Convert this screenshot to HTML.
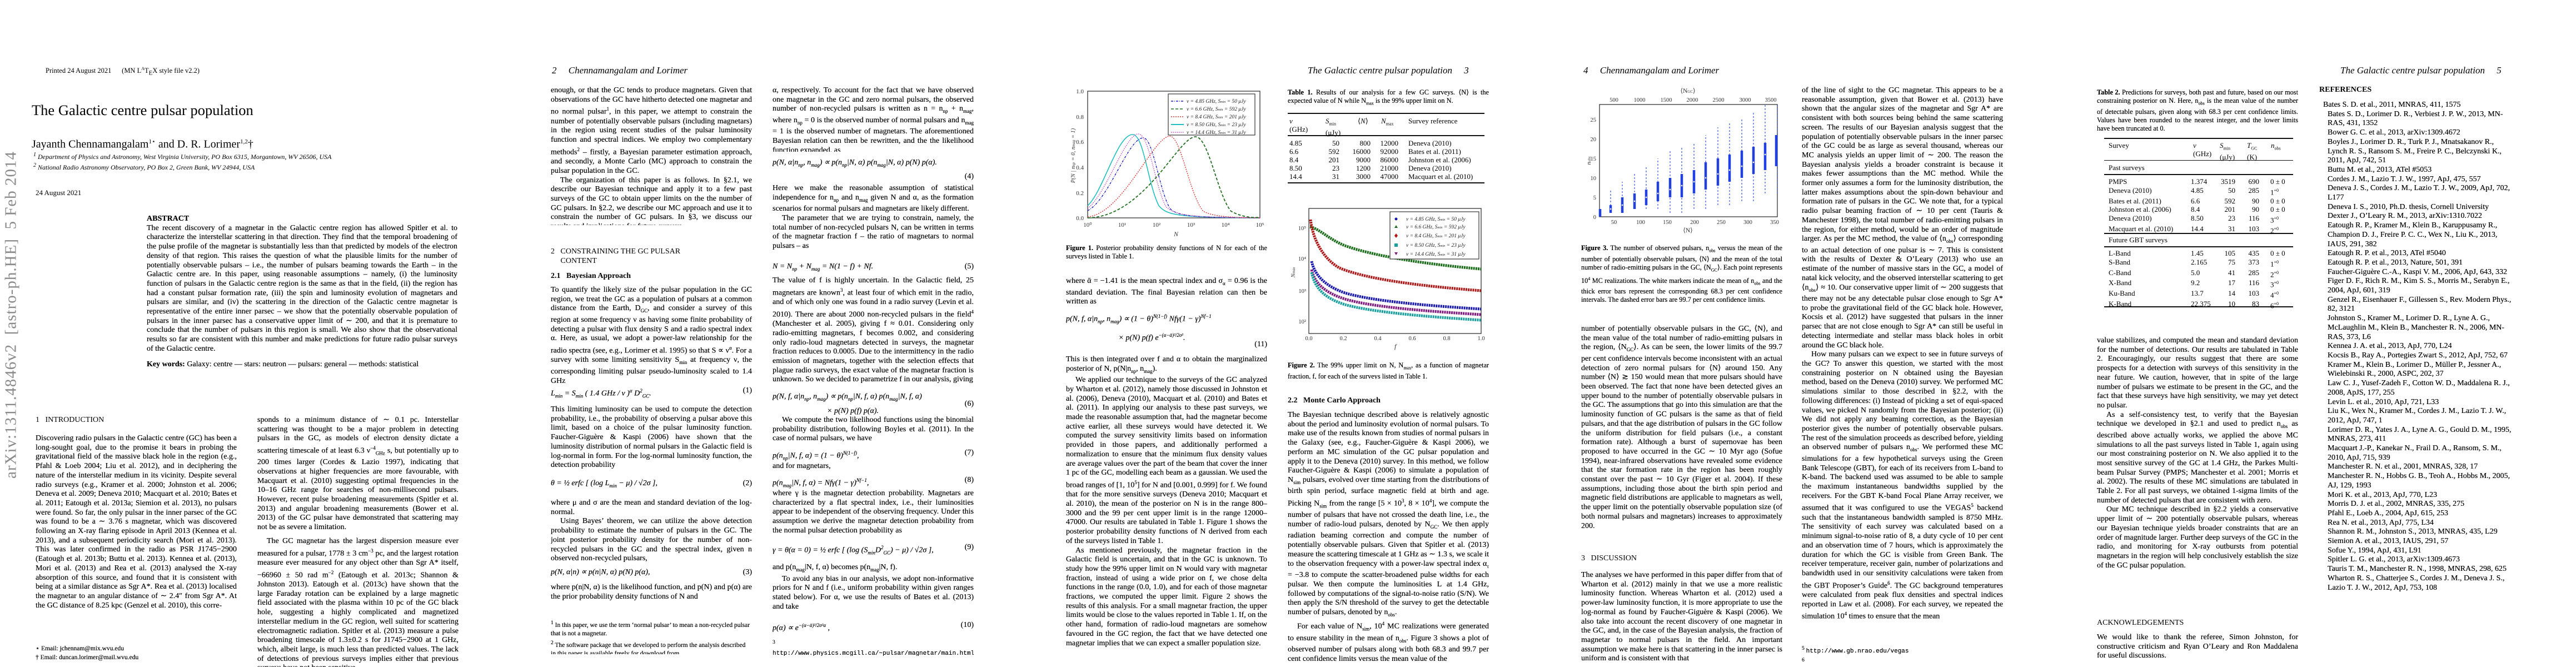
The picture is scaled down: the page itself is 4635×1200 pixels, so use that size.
<!DOCTYPE html>
<html><head><meta charset="utf-8">
<style>
*{margin:0;padding:0;box-sizing:border-box}
body{width:4635px;height:1200px;background:#fff;position:relative;overflow:hidden;font-family:"Liberation Serif",serif;color:#000}
.a{position:absolute}
.c{position:absolute;width:362px;font-size:14px;line-height:16.7px;text-align:justify;overflow:hidden;text-shadow:0 0 0.3px #000}
.c p{margin:0}
.i{text-indent:17px}
.s{font-size:12.3px;line-height:15.2px}
.fn{font-size:11.5px;line-height:15.5px;text-align:left}
.eq{display:flex;justify-content:space-between;font-size:14px;line-height:16.7px;font-style:italic}
.eq span:last-child{font-style:normal}
.hd{position:absolute;font-size:17px;font-style:italic;white-space:nowrap}
.mono{font-family:"Liberation Mono",monospace;font-size:11px}
b{font-weight:bold}
</style></head><body>

<!-- PAGE 1 -->
<div class="a" style="left:82px;top:119px;font-size:12.5px;white-space:nowrap">Printed 24 August 2021&nbsp;&nbsp;&nbsp;&nbsp;&nbsp;&nbsp;(MN L<sup style="font-size:8px">A</sup>T<sub style="font-size:11px">E</sub>X style file v2.2)</div>
<div class="a" style="left:57px;top:183px;font-size:26.5px;white-space:nowrap">The Galactic centre pulsar population</div>
<div class="a" style="left:57px;top:248px;font-size:20px;white-space:nowrap">Jayanth Chennamangalam<sup style="font-size:11px">1⋆</sup> and D. R. Lorimer<sup style="font-size:11px">1,2</sup>†</div>
<div class="a" style="left:60px;top:271px;font-size:12px;font-style:italic;white-space:nowrap;line-height:15px"><sup>1</sup> Department of Physics and Astronomy, West Virginia University, PO Box 6315, Morgantown, WV 26506, USA<br><sup>2</sup> National Radio Astronomy Observatory, PO Box 2, Green Bank, WV 24944, USA</div>
<div class="a" style="left:64px;top:339px;font-size:13px">24 August 2021</div>
<div class="a" style="left:5px;top:270px;width:32px;height:590px">
 <div style="position:absolute;left:-280px;top:280px;width:590px;transform:rotate(-90deg);font-size:29px;color:#8a8a8a;white-space:nowrap;text-align:center;letter-spacing:1px">arXiv:1311.4846v2&nbsp; [astro-ph.HE]&nbsp; 5 Feb 2014</div>
</div>
<div class="c" style="left:264px;top:386px;width:559px;height:312px">
<p style="font-weight:bold">ABSTRACT</p>
<p>The recent discovery of a magnetar in the Galactic centre region has allowed Spitler et al. to characterize the interstellar scattering in that direction. They find that the temporal broadening of the pulse profile of the magnetar is substantially less than that predicted by models of the electron density of that region. This raises the question of what the plausible limits for the number of potentially observable pulsars – i.e., the number of pulsars beaming towards the Earth – in the Galactic centre are. In this paper, using reasonable assumptions – namely, (i) the luminosity function of pulsars in the Galactic centre region is the same as that in the field, (ii) the region has had a constant pulsar formation rate, (iii) the spin and luminosity evolution of magnetars and pulsars are similar, and (iv) the scattering in the direction of the Galactic centre magnetar is representative of the entire inner parsec – we show that the potentially observable population of pulsars in the inner parsec has a conservative upper limit of ∼ 200, and that it is premature to conclude that the number of pulsars in this region is small. We also show that the observational results so far are consistent with this number and make predictions for future radio pulsar surveys of the Galactic centre.</p>
<p style="margin-top:11px"><b>Key words:</b> Galaxy: centre — stars: neutron — pulsars: general — methods: statistical</p>
</div>
<div class="a" style="left:64px;top:748px;font-size:14px">1&nbsp;&nbsp;&nbsp;INTRODUCTION</div>
<div class="c" style="left:64px;top:781px;height:342px"><p>Discovering radio pulsars in the Galactic centre (GC) has been a long-sought goal, due to the promise it bears in probing the gravitational field of the massive black hole in the region (e.g., Pfahl &amp; Loeb 2004; Liu et al. 2012), and in deciphering the nature of the interstellar medium in its vicinity. Despite several radio surveys (e.g., Kramer et al. 2000; Johnston et al. 2006; Deneva et al. 2009; Deneva 2010; Macquart et al. 2010; Bates et al. 2011; Eatough et al. 2013a; Siemion et al. 2013), no pulsars were found. So far, the only pulsar in the inner parsec of the GC was found to be a ∼ 3.76 s magnetar, which was discovered following an X-ray flaring episode in April 2013 (Kennea et al. 2013), and a subsequent periodicity search (Mori et al. 2013). This was later confirmed in the radio as PSR J1745−2900 (Eatough et al. 2013b; Buttu et al. 2013). Kennea et al. (2013), Mori et al. (2013) and Rea et al. (2013) analysed the X-ray absorption of this source, and found that it is consistent with being at a similar distance as Sgr A*. Rea et al. (2013) localised the magnetar to an angular distance of ∼ 2.4″ from Sgr A*. At the GC distance of 8.25 kpc (Genzel et al. 2010), this corre-</p></div>
<div class="c fn" style="left:64px;top:1160px;height:32px">⋆ Email: jchennam@mix.wvu.edu<br>† Email: duncan.lorimer@mail.wvu.edu</div>
<div class="c" style="left:463px;top:748px;height:452px"><p>sponds to a minimum distance of ∼ 0.1 pc. Interstellar scattering was thought to be a major problem in detecting pulsars in the GC, as models of electron density dictate a scattering timescale of at least 6.3 ν<sup style="font-size:9px">−4</sup><sub style="font-size:9px">GHz</sub> s, but potentially up to 200 times larger (Cordes &amp; Lazio 1997), indicating that observations at higher frequencies are more favourable, with Macquart et al. (2010) suggesting optimal frequencies in the 10–16 GHz range for searches of non-millisecond pulsars. However, recent pulse broadening measurements (Spitler et al. 2013) and angular broadening measurements (Bower et al. 2013) of the GC pulsar have demonstrated that scattering may not be as severe a limitation.</p>
<p class="i" style="margin-top:8px">The GC magnetar has the largest dispersion measure ever measured for a pulsar, 1778 ± 3 cm<sup style="font-size:9px">−3</sup> pc, and the largest rotation measure ever measured for any object other than Sgr A* itself, −66960 ± 50 rad m<sup style="font-size:9px">−2</sup> (Eatough et al. 2013c; Shannon &amp; Johnston 2013). Eatough et al. (2013c) have shown that the large Faraday rotation can be explained by a large magnetic field associated with the plasma within 10 pc of the GC black hole, suggesting a highly complicated and magnetized interstellar medium in the GC region, well suited for scattering electromagnetic radiation. Spitler et al. (2013) measure a pulse broadening timescale of 1.3±0.2 s for J1745−2900 at 1 GHz, which, albeit large, is much less than predicted values. The lack of detections of previous surveys implies either that previous surveys have not been sensitive</p></div>

<!-- PAGE 2 -->
<div class="hd" style="left:993px;top:117px">2&nbsp;&nbsp;&nbsp;&nbsp;&nbsp;Chennamangalam and Lorimer</div>
<div class="c" style="left:991px;top:155px;height:250px"><p>enough, or that the GC tends to produce magnetars. Given that observations of the GC have hitherto detected one magnetar and no normal pulsar<sup style="font-size:9px">1</sup>, in this paper, we attempt to constrain the number of potentially observable pulsars (including magnetars) in the region using recent studies of the pulsar luminosity function and spectral indices. We employ two complementary methods<sup style="font-size:9px">2</sup> – firstly, a Bayesian parameter estimation approach, and secondly, a Monte Carlo (MC) approach to constrain the pulsar population in the GC.</p>
<p class="i">The organization of this paper is as follows. In §2.1, we describe our Bayesian technique and apply it to a few past surveys of the GC to obtain upper limits on the the number of GC pulsars. In §2.2, we describe our MC approach and use it to constrain the number of GC pulsars. In §3, we discuss our results and implications for future surveys.</p></div>
<div class="a" style="left:991px;top:445px;font-size:14px;line-height:16.7px">2&nbsp;&nbsp;&nbsp;CONSTRAINING THE GC PULSAR<br>&nbsp;&nbsp;&nbsp;&nbsp;&nbsp;CONTENT</div>
<div class="a" style="left:991px;top:489px;font-size:14px;font-weight:bold">2.1&nbsp;&nbsp;&nbsp;Bayesian Approach</div>
<div class="c" style="left:991px;top:514px;height:182px"><p>To quantify the likely size of the pulsar population in the GC region, we treat the GC as a population of pulsars at a common distance from the Earth, D<sub style="font-size:9px">GC</sub>, and consider a survey of this region at some frequency ν as having some finite probability of detecting a pulsar with flux density S and a radio spectral index α. Here, as usual, we adopt a power-law relationship for the radio spectra (see, e.g., Lorimer et al. 1995) so that S ∝ ν<sup style="font-size:9px">α</sup>. For a survey with some limiting sensitivity S<sub style="font-size:9px">min</sub> at frequency ν, the corresponding limiting pulsar pseudo-luminosity scaled to 1.4 GHz</p></div>
<div class="c eq" style="left:991px;top:695px"><span>L<sub style="font-size:9px">min</sub> = S<sub style="font-size:9px">min</sub> ( 1.4 GHz / ν )<sup style="font-size:9px">α</sup> D<sup style="font-size:9px">2</sup><sub style="font-size:9px">GC</sub>.</span><span>(1)</span></div>
<div class="c" style="left:991px;top:729px;height:118px"><p>This limiting luminosity can be used to compute the detection probability, i.e., the probability of observing a pulsar above this limit, based on a choice of the pulsar luminosity function. Faucher-Giguère &amp; Kaspi (2006) have shown that the luminosity distribution of normal pulsars in the Galactic field is log-normal in form. For the log-normal luminosity function, the detection probability</p></div>
<div class="c eq" style="left:991px;top:862px"><span>θ = ½ erfc [ (log L<sub style="font-size:9px">min</sub> − μ) / √2σ ],</span><span>(2)</span></div>
<div class="c" style="left:991px;top:897px;height:118px"><p>where μ and σ are the mean and standard deviation of the log-normal.</p><p class="i">Using Bayes’ theorem, we can utilize the above detection probability to estimate the number of pulsars in the GC. The joint posterior probability density for the number of non-recycled pulsars in the GC and the spectral index, given n observed non-recycled pulsars,</p></div>
<div class="c eq" style="left:991px;top:1022px"><span>p(N, α|n) ∝ p(n|N, α) p(N) p(α),</span><span>(3)</span></div>
<div class="c" style="left:991px;top:1049px;height:34px"><p>where p(n|N, α) is the likelihood function, and p(N) and p(α) are the prior probability density functions of N and</p></div>
<div class="c fn" style="left:991px;top:1113px;height:64px"><sup>1</sup> In this paper, we use the term ‘normal pulsar’ to mean a non-recycled pulsar that is not a magnetar.<br><sup>2</sup> The software package that we developed to perform the analysis described in this paper is available freely for download from <span class="mono">http://psrpop.phys.wvu.edu/gcpulsars</span>.</div>

<div class="c" style="left:1390px;top:155px;height:118px"><p>α, respectively. To account for the fact that we have observed one magnetar in the GC and zero normal pulsars, the observed number of non-recycled pulsars is written as n = n<sub style="font-size:9px">np</sub> + n<sub style="font-size:9px">mag</sub>, where n<sub style="font-size:9px">np</sub> = 0 is the observed number of normal pulsars and n<sub style="font-size:9px">mag</sub> = 1 is the observed number of magnetars. The aforementioned Bayesian relation can then be rewritten, and the the likelihood function expanded, as</p></div>
<div class="c eq" style="left:1390px;top:285px"><span>p(N, α|n<sub style="font-size:9px">np</sub>, n<sub style="font-size:9px">mag</sub>) ∝ p(n<sub style="font-size:9px">np</sub>|N, α) p(n<sub style="font-size:9px">mag</sub>|N, α) p(N) p(α).</span><span></span></div>
<div class="c" style="left:1390px;top:310px;text-align:right">(4)</div>
<div class="c" style="left:1390px;top:331px;height:134px"><p>Here we make the reasonable assumption of statistical independence for n<sub style="font-size:9px">np</sub> and n<sub style="font-size:9px">mag</sub> given N and α, as the formation scenarios for normal pulsars and magnetars are likely different.</p><p class="i">The parameter that we are trying to constrain, namely, the total number of non-recycled pulsars N, can be written in terms of the magnetar fraction f – the ratio of magnetars to normal pulsars – as</p></div>
<div class="c eq" style="left:1390px;top:472px"><span>N = N<sub style="font-size:9px">np</sub> + N<sub style="font-size:9px">mag</sub> = N(1 − f) + Nf.</span><span>(5)</span></div>
<div class="c" style="left:1390px;top:497px;height:200px"><p>The value of f is highly uncertain. In the Galactic field, 25 magnetars are known<sup style="font-size:9px">3</sup>, at least four of which emit in the radio, and of which only one was found in a radio survey (Levin et al. 2010). There are about 2000 non-recycled pulsars in the field<sup style="font-size:9px">4</sup> (Manchester et al. 2005), giving f ≈ 0.01. Considering only radio-emitting magnetars, f becomes 0.002, and considering only radio-loud magnetars detected in surveys, the magnetar fraction reduces to 0.0005. Due to the intermittency in the radio emission of magnetars, together with the selection effects that plague radio surveys, the exact value of the magnetar fraction is unknown. So we decided to parametrize f in our analysis, giving</p></div>
<div class="c eq" style="left:1390px;top:703px;line-height:22px"><span>p(N, f, α|n<sub style="font-size:9px">np</sub>, n<sub style="font-size:9px">mag</sub>) ∝ p(n<sub style="font-size:9px">np</sub>|N, f, α) p(n<sub style="font-size:9px">mag</sub>|N, f, α)<br>&nbsp;&nbsp;&nbsp;&nbsp;&nbsp;&nbsp;&nbsp;&nbsp;&nbsp;&nbsp;&nbsp;&nbsp;&nbsp;&nbsp;&nbsp;&nbsp;&nbsp;&nbsp;&nbsp;&nbsp;&nbsp;&nbsp;&nbsp;&nbsp;&nbsp;&nbsp;&nbsp;&nbsp;× p(N) p(f) p(α).</span><span style="align-self:center">(6)</span></div>
<div class="c" style="left:1390px;top:748px;height:52px"><p class="i">We compute the two likelihood functions using the binomial probability distribution, following Boyles et al. (2011). In the case of normal pulsars, we have</p></div>
<div class="c eq" style="left:1390px;top:807px"><span>p(n<sub style="font-size:9px">np</sub>|N, f, α) = (1 − θ)<sup style="font-size:9px">N(1−f)</sup>,</span><span>(7)</span></div>
<div class="c" style="left:1390px;top:831px">and for magnetars,</div>
<div class="c eq" style="left:1390px;top:856px"><span>p(n<sub style="font-size:9px">mag</sub>|N, f, α) = Nfγ(1 − γ)<sup style="font-size:9px">Nf−1</sup>,</span><span>(8)</span></div>
<div class="c" style="left:1390px;top:880px;height:84px"><p>where γ is the magnetar detection probability. Magnetars are characterized by a flat spectral index, i.e., their luminosities appear to be independent of the observing frequency. Under this assumption we derive the magnetar detection probability from the normal pulsar detection probability as</p></div>
<div class="c eq" style="left:1390px;top:977px"><span>γ = θ(α = 0) = ½ erfc [ (log (S<sub style="font-size:9px">min</sub>D<sup style="font-size:9px">2</sup><sub style="font-size:9px">GC</sub>) − μ) / √2σ ],</span><span>(9)</span></div>
<div class="c" style="left:1390px;top:1013px;height:84px"><p>and p(n<sub style="font-size:9px">mag</sub>|N, f, α) becomes p(n<sub style="font-size:9px">mag</sub>|N, f).</p><p class="i">To avoid any bias in our analysis, we adopt non-informative priors for N and f (i.e., uniform probability within given ranges stated below). For α, we use the results of Bates et al. (2013) and take</p></div>
<div class="c eq" style="left:1390px;top:1117px"><span>p(α) ∝ e<sup style="font-size:9px">−(α−ᾱ)²/2σ²α</sup> ,</span><span>(10)</span></div>
<div class="c fn" style="left:1390px;top:1148px;height:32px"><sup>3</sup> <span class="mono">http://www.physics.mcgill.ca/~pulsar/magnetar/main.html</span><br><sup>4</sup> <span class="mono">http://www.atnf.csiro.au/people/pulsar/psrcat/</span></div>

<!-- PAGE 3 -->
<div class="hd" style="left:2353px;top:117px">The Galactic centre pulsar population&nbsp;&nbsp;&nbsp;&nbsp;&nbsp;3</div>
<div class="c s" style="left:1918px;top:439px;height:32px"><b>Figure 1.</b> Posterior probability density functions of N for each of the surveys listed in Table 1.</div>
<div class="c" style="left:1918px;top:498px;height:52px"><p>where ᾱ = −1.41 is the mean spectral index and σ<sub style="font-size:9px">α</sub> = 0.96 is the standard deviation. The final Bayesian relation can then be written as</p></div>
<div class="c eq" style="left:1918px;top:557px;line-height:25px"><span>p(N, f, α|n<sub style="font-size:9px">np</sub>, n<sub style="font-size:9px">mag</sub>) ∝ (1 − θ)<sup style="font-size:9px">N(1−f)</sup> Nfγ(1 − γ)<sup style="font-size:9px">Nf−1</sup><br>&nbsp;&nbsp;&nbsp;&nbsp;&nbsp;&nbsp;&nbsp;&nbsp;&nbsp;&nbsp;&nbsp;&nbsp;&nbsp;&nbsp;&nbsp;&nbsp;&nbsp;&nbsp;&nbsp;&nbsp;&nbsp;&nbsp;&nbsp;&nbsp;&nbsp;&nbsp;&nbsp;× p(N) p(f) e<sup style="font-size:9px">−(α−ᾱ)²/2σ²</sup>.</span><span></span></div>
<div class="c" style="left:1918px;top:612px;text-align:right">(11)</div>
<div class="c" style="left:1918px;top:639px;height:555px"><p>This is then integrated over f and α to obtain the marginalized posterior of N, p(N|n<sub style="font-size:9px">np</sub>, n<sub style="font-size:9px">mag</sub>).</p>
<p class="i">We applied our technique to the surveys of the GC analyzed by Wharton et al. (2012), namely those discussed in Johnston et al. (2006), Deneva (2010), Macquart et al. (2010) and Bates et al. (2011). In applying our analysis to these past surveys, we made the reasonable assumption that, had the magnetar become active earlier, all these surveys would have detected it. We computed the survey sensitivity limits based on information provided in those papers, and additionally performed a normalization to ensure that the minimum flux density values are average values over the part of the beam that cover the inner 1 pc of the GC, modelling each beam as a gaussian. We used the broad ranges of [1, 10<sup style="font-size:9px">5</sup>] for N and [0.001, 0.999] for f. We found that for the more sensitive surveys (Deneva 2010; Macquart et al. 2010), the mean of the posterior on N is in the range 800–3000 and the 99 per cent upper limit is in the range 12000–47000. Our results are tabulated in Table 1. Figure 1 shows the posterior probability density functions of N derived from each of the surveys listed in Table 1.</p>
<p class="i">As mentioned previously, the magnetar fraction in the Galactic field is uncertain, and that in the GC is unknown. To study how the 99% upper limit on N would vary with magnetar fraction, instead of using a wide prior on f, we chose delta functions in the range (0.0, 1.0), and for each of those magnetar fractions, we computed the upper limit. Figure 2 shows the results of this analysis. For a small magnetar fraction, the upper limits would be close to the values reported in Table 1. If, on the other hand, formation of radio-loud magnetars are somehow favoured in the GC region, the fact that we have detected one magnetar implies that we can expect a smaller population size.</p></div>

<div class="c s" style="left:2317px;top:159px;height:32px"><b>Table 1.</b> Results of our analysis for a few GC surveys. ⟨N⟩ is the expected value of N while N<sub style="font-size:8px">max</sub> is the 99% upper limit on N.</div>
<div class="a" style="left:2317px;top:203px;width:354px;border-top:2.5px solid #111"></div>
<div class="a" style="left:2317px;top:243px;width:354px;border-top:2.5px solid #111"></div>
<div class="a" style="left:2317px;top:328px;width:354px;border-top:2.5px solid #111"></div>
<div class="a" style="left:2320px;top:210px;font-size:13px;line-height:15px;font-style:italic">ν<br><span style="font-style:normal">(GHz)</span></div>
<div class="a" style="left:2385px;top:210px;font-size:13px;line-height:15px"><i>S</i><sub style="font-size:8px">min</sub><br>(μJy)</div>
<div class="a" style="left:2443px;top:210px;font-size:13px">⟨<i>N</i>⟩</div>
<div class="a" style="left:2485px;top:210px;font-size:13px"><i>N</i><sub style="font-size:8px">max</sub></div>
<div class="a" style="left:2534px;top:210px;font-size:13px">Survey reference</div>
<div class="a" style="left:2320px;top:250px;font-size:13px;line-height:15px;width:350px">
<div style="display:grid;grid-template-columns:38px 52px 56px 50px 150px;column-gap:0">
<span>4.85</span><span style="text-align:right">50</span><span style="text-align:right">800</span><span style="text-align:right">12000</span><span style="padding-left:18px">Deneva (2010)</span>
<span>6.6</span><span style="text-align:right">592</span><span style="text-align:right">16000</span><span style="text-align:right">92000</span><span style="padding-left:18px">Bates et al. (2011)</span>
<span>8.4</span><span style="text-align:right">201</span><span style="text-align:right">9000</span><span style="text-align:right">86000</span><span style="padding-left:18px">Johnston et al. (2006)</span>
<span>8.50</span><span style="text-align:right">23</span><span style="text-align:right">1200</span><span style="text-align:right">21000</span><span style="padding-left:18px">Deneva (2010)</span>
<span>14.4</span><span style="text-align:right">31</span><span style="text-align:right">3000</span><span style="text-align:right">47000</span><span style="padding-left:18px">Macquart et al. (2010)</span>
</div></div>
<div class="c s" style="left:2317px;top:650px;height:32px"><b>Figure 2.</b> The 99% upper limit on N, N<sub style="font-size:8px">max</sub>, as a function of magnetar fraction, f, for each of the surveys listed in Table 1.</div>
<div class="a" style="left:2317px;top:713px;font-size:14px;font-weight:bold">2.2&nbsp;&nbsp;&nbsp;Monte Carlo Approach</div>
<div class="c" style="left:2317px;top:739px;height:455px"><p>The Bayesian technique described above is relatively agnostic about the period and luminosity evolution of normal pulsars. To make use of the results known from studies of normal pulsars in the Galaxy (see, e.g., Faucher-Giguère &amp; Kaspi 2006), we perform an MC simulation of the GC pulsar population and apply it to the Deneva (2010) survey. In this method, we follow Faucher-Giguère &amp; Kaspi (2006) to simulate a population of N<sub style="font-size:9px">sim</sub> pulsars, evolved over time starting from the distributions of birth spin period, surface magnetic field at birth and age. Picking N<sub style="font-size:9px">sim</sub> from the range [5 × 10<sup style="font-size:9px">3</sup>, 8 × 10<sup style="font-size:9px">4</sup>], we compute the number of pulsars that have not crossed the death line, i.e., the number of radio-loud pulsars, denoted by N<sub style="font-size:9px">GC</sub>. We then apply radiation beaming correction and compute the number of potentially observable pulsars. Given that Spitler et al. (2013) measure the scattering timescale at 1 GHz as ∼ 1.3 s, we scale it to the observation frequency with a power-law spectral index α<sub style="font-size:9px">τ</sub> = −3.8 to compute the scatter-broadened pulse widths for each pulsar. We then compute the luminosities L at 1.4 GHz, followed by computations of the signal-to-noise ratio (S/N). We then apply the S/N threshold of the survey to get the detectable number of pulsars, denoted by n<sub style="font-size:9px">obs</sub>.</p>
<p class="i">For each value of N<sub style="font-size:9px">sim</sub>, 10<sup style="font-size:9px">4</sup> MC realizations were generated to ensure stability in the mean of n<sub style="font-size:9px">obs</sub>. Figure 3 shows a plot of observed number of pulsars along with both 68.3 and 99.7 per cent confidence limits versus the mean value of the</p></div>

<!-- PAGE 4 -->
<div class="hd" style="left:2849px;top:117px">4&nbsp;&nbsp;&nbsp;&nbsp;&nbsp;Chennamangalam and Lorimer</div>
<div class="c s" style="left:2845px;top:439px;height:108px"><b>Figure 3.</b> The number of observed pulsars, n<sub style="font-size:8px">obs</sub> versus the mean of the number of potentially observable pulsars, ⟨N⟩ and the mean of the total number of radio-emitting pulsars in the GC, ⟨N<sub style="font-size:8px">GC</sub>⟩. Each point represents 10<sup style="font-size:8px">4</sup> MC realizations. The white markers indicate the mean of n<sub style="font-size:8px">obs</sub> and the thick error bars represent the corresponding 68.3 per cent confidence intervals. The dashed error bars are 99.7 per cent confidence limits.</div>
<div class="c" style="left:2845px;top:584px;height:368px"><p>number of potentially observable pulsars in the GC, ⟨N⟩, and the mean value of the total number of radio-emitting pulsars in the region, ⟨N<sub style="font-size:9px">GC</sub>⟩. As can be seen, the lower limits of the 99.7 per cent confidence intervals become inconsistent with an actual detection of zero normal pulsars for ⟨N⟩ around 150. Any number ⟨N⟩ ≳ 150 would mean that more pulsars should have been observed. The fact that none have been detected gives an upper bound to the number of potentially observable pulsars in the GC. The assumptions that go into this simulation are that the luminosity function of GC pulsars is the same as that of field pulsars, and that the age distribution of pulsars in the GC follow the uniform distribution for field pulsars (i.e., a constant formation rate). Although a burst of supernovae has been proposed to have occurred in the GC ∼ 10 Myr ago (Sofue 1994), near-infrared observations have revealed some evidence that the star formation rate in the region has been roughly constant over the past ∼ 10 Gyr (Figer et al. 2004). If these assumptions, including those about the birth spin period and magnetic field distributions are applicable to magnetars as well, the upper limit on the potentially observable population size (of both normal pulsars and magnetars) increases to approximately 200.</p></div>
<div class="a" style="left:2845px;top:997px;font-size:14px">3&nbsp;&nbsp;&nbsp;DISCUSSION</div>
<div class="c" style="left:2845px;top:1027px;height:168px"><p>The analyses we have performed in this paper differ from that of Wharton et al. (2012) mainly in that we use a more realistic luminosity function. Whereas Wharton et al. (2012) used a power-law luminosity function, it is more appropriate to use the log-normal as found by Faucher-Giguère &amp; Kaspi (2006). We also take into account the recent discovery of one magnetar in the GC, and, in the case of the Bayesian analysis, the fraction of magnetar to normal pulsars in the field. An important assumption we make here is that scattering in the inner parsec is uniform and is consistent with that</p></div>
<div class="c" style="left:3242px;top:155px;height:960px"><p>of the line of sight to the GC magnetar. This appears to be a reasonable assumption, given that Bower et al. (2013) have shown that the angular sizes of the magnetar and Sgr A* are consistent with both sources being behind the same scattering screen. The results of our Bayesian analysis suggest that the population of potentially observable pulsars in the inner parsec of the GC could be as large as several thousand, whereas our MC analysis yields an upper limit of ∼ 200. The reason the Bayesian analysis yields a broader constraint is because it makes fewer assumptions than the MC method. While the former only assumes a form for the luminosity distribution, the latter makes assumptions about the spin-down behaviour and formation rate of pulsars in the GC. We note that, for a typical radio pulsar beaming fraction of ∼ 10 per cent (Tauris &amp; Manchester 1998), the total number of radio-emitting pulsars in the region, for either method, would be an order of magnitude larger. As per the MC method, the value of ⟨n<sub style="font-size:9px">obs</sub>⟩ corresponding to an actual detection of one pulsar is ∼ 7. This is consistent with the results of Dexter &amp; O’Leary (2013) who use an estimate of the number of massive stars in the GC, a model of natal kick velocity, and the observed interstellar scattering to get ⟨n<sub style="font-size:9px">obs</sub>⟩ ≈ 10. Our conservative upper limit of ∼ 200 suggests that there may not be any detectable pulsar close enough to Sgr A* to probe the gravitational field of the GC black hole. However, Kocsis et al. (2012) have suggested that pulsars in the inner parsec that are not close enough to Sgr A* can still be useful in detecting intermediate and stellar mass black holes in orbit around the GC black hole.</p>
<p class="i">How many pulsars can we expect to see in future surveys of the GC? To answer this question, we started with the most constraining posterior on N obtained using the Bayesian method, based on the Deneva (2010) survey. We performed MC simulations similar to those described in §2.2, with the following differences: (i) Instead of picking a set of equi-spaced values, we picked N randomly from the Bayesian posterior; (ii) We did not apply any beaming correction, as the Bayesian posterior gives the number of potentially observable pulsars. The rest of the simulation proceeds as described before, yielding an observed number of pulsars n<sub style="font-size:9px">obs</sub>. We performed these MC simulations for a few hypothetical surveys using the Green Bank Telescope (GBT), for each of its receivers from L-band to K-band. The backend used was assumed to be able to sample the maximum instantaneous bandwidths supplied by the receivers. For the GBT K-band Focal Plane Array receiver, we assumed that it was configured to use the VEGAS<sup style="font-size:9px">5</sup> backend such that the instantaneous bandwidth sampled is 8750 MHz. The sensitivity of each survey was calculated based on a minimum signal-to-noise ratio of 8, a duty cycle of 10 per cent and an observation time of 7 hours, which is approximately the duration for which the GC is visible from Green Bank. The receiver temperature, receiver gain, number of polarizations and bandwidth used in our sensitivity calculations were taken from the GBT Proposer’s Guide<sup style="font-size:9px">6</sup>. The GC background temperatures were calculated from peak flux densities and spectral indices reported in Law et al. (2008). For each survey, we repeated the simulation 10<sup style="font-size:9px">4</sup> times to ensure that the mean</p></div>
<div class="c fn" style="left:3242px;top:1159px;height:32px"><sup>5</sup> <span class="mono">http://www.gb.nrao.edu/vegas</span><br><sup>6</sup> <span class="mono">https://science.nrao.edu/facilities/gbt/proposing/GBTpg.pdf</span></div>

<!-- PAGE 5 -->
<div class="hd" style="left:4211px;top:117px">The Galactic centre pulsar population&nbsp;&nbsp;&nbsp;&nbsp;&nbsp;5</div>
<div class="c s" style="left:3773px;top:159px;height:78px"><b>Table 2.</b> Predictions for surveys, both past and future, based on our most constraining posterior on N. Here, n<sub style="font-size:8px">obs</sub> is the mean value of the number of detectable pulsars, given along with 68.3 per cent confidence limits. Values have been rounded to the nearest integer, and the lower limits have been truncated at 0.</div>
<div class="a" style="left:3786px;top:248px;width:340px;border-top:2.5px solid #111"></div>
<div class="a" style="left:3786px;top:288px;width:340px;border-top:1.5px solid #111"></div>
<div class="a" style="left:3786px;top:313px;width:340px;border-top:2.5px solid #111"></div>
<div class="a" style="left:3786px;top:419px;width:340px;border-top:2.5px solid #111"></div>
<div class="a" style="left:3786px;top:443px;width:340px;border-top:2.5px solid #111"></div>
<div class="a" style="left:3786px;top:551px;width:340px;border-top:2.5px solid #111"></div>
<div class="a" style="left:3794px;top:254px;font-size:13px">Survey</div>
<div class="a" style="left:3946px;top:254px;font-size:13px;line-height:15px"><i>ν</i><br>(GHz)</div>
<div class="a" style="left:3994px;top:254px;font-size:13px;line-height:15px"><i>S</i><sub style="font-size:8px">min</sub><br>(μJy)</div>
<div class="a" style="left:4043px;top:254px;font-size:13px;line-height:15px"><i>T</i><sub style="font-size:8px">GC</sub><br>(K)</div>
<div class="a" style="left:4086px;top:254px;font-size:13px"><i>n</i><sub style="font-size:8px">obs</sub></div>
<div class="a" style="left:3794px;top:294px;font-size:13px">Past surveys</div>
<div class="a" style="left:3794px;top:424px;font-size:13px">Future GBT surveys</div>
<div class="a" style="left:3794px;top:319px;font-size:13px;line-height:15.7px;width:330px">
<div style="display:grid;grid-template-columns:148px 50px 30px 43px 50px">
<span>PMPS</span><span>1.374</span><span style="text-align:right">3519</span><span style="text-align:right">690</span><span style="padding-left:20px">0 ± 0</span>
<span>Deneva (2010)</span><span>4.85</span><span style="text-align:right">50</span><span style="text-align:right">285</span><span style="padding-left:20px">1<sup style="font-size:8px">+0</sup></span>
<span>Bates et al. (2011)</span><span>6.6</span><span style="text-align:right">592</span><span style="text-align:right">90</span><span style="padding-left:20px">0 ± 0</span>
<span>Johnston et al. (2006)</span><span>8.4</span><span style="text-align:right">201</span><span style="text-align:right">90</span><span style="padding-left:20px">0 ± 0</span>
<span>Deneva (2010)</span><span>8.50</span><span style="text-align:right">23</span><span style="text-align:right">116</span><span style="padding-left:20px">3<sup style="font-size:8px">+0</sup></span>
<span>Macquart et al. (2010)</span><span>14.4</span><span style="text-align:right">31</span><span style="text-align:right">103</span><span style="padding-left:20px">2<sup style="font-size:8px">+0</sup></span>
</div></div>
<div class="a" style="left:3794px;top:448px;font-size:13px;line-height:15.6px;width:330px">
<div style="display:grid;grid-template-columns:148px 50px 30px 43px 50px">
<span>L-Band</span><span>1.45</span><span style="text-align:right">105</span><span style="text-align:right">435</span><span style="padding-left:20px">0 ± 0</span>
<span>S-Band</span><span>2.165</span><span style="text-align:right">75</span><span style="text-align:right">373</span><span style="padding-left:20px">1<sup style="font-size:8px">+0</sup></span>
<span>C-Band</span><span>5.0</span><span style="text-align:right">41</span><span style="text-align:right">285</span><span style="padding-left:20px">2<sup style="font-size:8px">+0</sup></span>
<span>X-Band</span><span>9.2</span><span style="text-align:right">17</span><span style="text-align:right">116</span><span style="padding-left:20px">3<sup style="font-size:8px">+0</sup></span>
<span>Ku-Band</span><span>13.7</span><span style="text-align:right">14</span><span style="text-align:right">103</span><span style="padding-left:20px">4<sup style="font-size:8px">+0</sup></span>
<span>K-Band</span><span>22.375</span><span style="text-align:right">10</span><span style="text-align:right">83</span><span style="padding-left:20px">6<sup style="font-size:8px">+0</sup></span>
</div></div>
<div class="c" style="left:3773px;top:605px;height:436px"><p>value stabilizes, and computed the mean and standard deviation for the number of detections. Our results are tabulated in Table 2. Encouragingly, our results suggest that there are some prospects for a detection with surveys of this sensitivity in the near future. We caution, however, that in spite of the large number of pulsars we estimate to be present in the GC, and the fact that these surveys have high sensitivity, we may yet detect no pulsar.</p>
<p class="i">As a self-consistency test, to verify that the Bayesian technique we developed in §2.1 and used to predict n<sub style="font-size:9px">obs</sub> as described above actually works, we applied the above MC simulations to all the past surveys listed in Table 1, again using our most constraining posterior on N. We also applied it to the most sensitive survey of the GC at 1.4 GHz, the Parkes Multi-beam Pulsar Survey (PMPS; Manchester et al. 2001; Morris et al. 2002). The results of these MC simulations are tabulated in Table 2. For all past surveys, we obtained 1-sigma limits of the number of detected pulsars that are consistent with zero.</p>
<p class="i">Our MC technique described in §2.2 yields a conservative upper limit of ∼ 200 potentially observable pulsars, whereas our Bayesian technique yields broader constraints that are an order of magnitude larger. Further deep surveys of the GC in the radio, and monitoring for X-ray outbursts from potential magnetars in the region will help conclusively establish the size of the GC pulsar population.</p></div>
<div class="a" style="left:3773px;top:1113px;font-size:14px">ACKNOWLEDGEMENTS</div>
<div class="c" style="left:3773px;top:1139px;height:52px"><p>We would like to thank the referee, Simon Johnston, for constructive criticism and Ryan O’Leary and Ron Maddalena for useful discussions.</p></div>
<div class="a" style="left:4173px;top:154px;font-size:14px;font-weight:bold">REFERENCES</div>
<div class="c" style="left:4180px;top:181px;width:358px;height:885px;text-align:left;line-height:16.7px">
<div style="padding-left:8px;text-indent:-8px">
Bates S. D. et al., 2011, MNRAS, 411, 1575<br>
Bates S. D., Lorimer D. R., Verbiest J. P. W., 2013, MN-<br>RAS, 431, 1352<br>
Bower G. C. et al., 2013, arXiv:1309.4672<br>
Boyles J., Lorimer D. R., Turk P. J., Mnatsakanov R.,<br>Lynch R. S., Ransom S. M., Freire P. C., Belczynski K.,<br>2011, ApJ, 742, 51<br>
Buttu M. et al., 2013, ATel #5053<br>
Cordes J. M., Lazio T. J. W., 1997, ApJ, 475, 557<br>
Deneva J. S., Cordes J. M., Lazio T. J. W., 2009, ApJ, 702,<br>L177<br>
Deneva I. S., 2010, Ph.D. thesis, Cornell University<br>
Dexter J., O’Leary R. M., 2013, arXiv:1310.7022<br>
Eatough R. P., Kramer M., Klein B., Karuppusamy R.,<br>Champion D. J., Freire P. C. C., Wex N., Liu K., 2013,<br>IAUS, 291, 382<br>
Eatough R. P. et al., 2013, ATel #5040<br>
Eatough R. P. et al., 2013, Nature, 501, 391<br>
Faucher-Giguère C.-A., Kaspi V. M., 2006, ApJ, 643, 332<br>
Figer D. F., Rich R. M., Kim S. S., Morris M., Serabyn E.,<br>2004, ApJ, 601, 319<br>
Genzel R., Eisenhauer F., Gillessen S., Rev. Modern Phys.,<br>82, 3121<br>
Johnston S., Kramer M., Lorimer D. R., Lyne A. G.,<br>McLaughlin M., Klein B., Manchester R. N., 2006, MN-<br>RAS, 373, L6<br>
Kennea J. A. et al., 2013, ApJ, 770, L24<br>
Kocsis B., Ray A., Portegies Zwart S., 2012, ApJ, 752, 67<br>
Kramer M., Klein B., Lorimer D., Müller P., Jessner A.,<br>Wielebinski R., 2000, ASPC, 202, 37<br>
Law C. J., Yusef-Zadeh F., Cotton W. D., Maddalena R. J.,<br>2008, ApJS, 177, 255<br>
Levin L. et al., 2010, ApJ, 721, L33<br>
Liu K., Wex N., Kramer M., Cordes J. M., Lazio T. J. W.,<br>2012, ApJ, 747, 1<br>
Lorimer D. R., Yates J. A., Lyne A. G., Gould D. M., 1995,<br>MNRAS, 273, 411<br>
Macquart J.-P., Kanekar N., Frail D. A., Ransom, S. M.,<br>2010, ApJ, 715, 939<br>
Manchester R. N. et al., 2001, MNRAS, 328, 17<br>
Manchester R. N., Hobbs G. B., Teoh A., Hobbs M., 2005,<br>AJ, 129, 1993<br>
Mori K. et al., 2013, ApJ, 770, L23<br>
Morris D. J. et al., 2002, MNRAS, 335, 275<br>
Pfahl E., Loeb A., 2004, ApJ, 615, 253<br>
Rea N. et al., 2013, ApJ, 775, L34<br>
Shannon R. M., Johnston S., 2013, MNRAS, 435, L29<br>
Siemion A. et al., 2013, IAUS, 291, 57<br>
Sofue Y., 1994, ApJ, 431, L91<br>
Spitler L. G. et al., 2013, arXiv:1309.4673<br>
Tauris T. M., Manchester R. N., 1998, MNRAS, 298, 625<br>
Wharton R. S., Chatterjee S., Cordes J. M., Deneva J. S.,<br>Lazio T. J. W., 2012, ApJ, 753, 108
</div></div>

<!-- FIGURES -->
<svg class="a" style="left:0;top:0" width="4635" height="1200" viewBox="0 0 4635 1200" font-family="Liberation Serif, serif">
<!-- Figure 1 -->
<g fill="#333" font-size="11">
<rect x="1957" y="164" width="310" height="228" fill="none" stroke="#333" stroke-width="1.3"/>
<text x="1950" y="396" text-anchor="end">0.0</text><text x="1950" y="351" text-anchor="end">0.2</text><text x="1950" y="305" text-anchor="end">0.4</text><text x="1950" y="259" text-anchor="end">0.6</text><text x="1950" y="214" text-anchor="end">0.8</text><text x="1950" y="168" text-anchor="end">1.0</text>
<text x="1957" y="408" text-anchor="middle">10⁰</text><text x="2019" y="408" text-anchor="middle">10¹</text><text x="2081" y="408" text-anchor="middle">10²</text><text x="2143" y="408" text-anchor="middle">10³</text><text x="2205" y="408" text-anchor="middle">10⁴</text><text x="2267" y="408" text-anchor="middle">10⁵</text>
<text x="2112" y="425" font-style="italic" font-size="12">N</text>
<text transform="translate(1934,280) rotate(-90)" text-anchor="middle" font-size="10.5" font-style="italic">P(N | n<tspan font-size="7">np</tspan> = 0, n<tspan font-size="7">mag</tspan> = 1)</text>
</g>
<g fill="none" stroke-width="1.4">
<path d="M1957,370 C1985,345 2010,242 2038,242 C2058,242 2065,330 2085,370 C2100,388 2120,391 2267,392" stroke="#1fbfbf" stroke-width="1.6"/>
<path d="M1957,379 C1995,360 2030,248 2057,248 C2075,248 2085,340 2105,375 C2120,390 2150,391 2267,392" stroke="#2020c0" stroke-dasharray="4 2 1 2"/>
<path d="M1957,375 C1990,350 2025,241 2048,241 C2068,241 2078,335 2098,372 C2115,389 2150,391 2267,392" stroke="#c040c0" stroke-dasharray="1.5 2"/>
<path d="M1957,390 C2020,385 2075,245 2105,245 C2125,245 2140,350 2165,380 C2185,391 2220,391 2267,392" stroke="#e03030" stroke-dasharray="2 2"/>
<path d="M1957,392 C2060,390 2120,246 2151,246 C2175,246 2190,350 2215,380 C2235,391 2255,392 2267,391" stroke="#207020" stroke-width="1.8" stroke-dasharray="5 3"/>
</g>
<rect x="2102" y="169" width="156" height="74" fill="#fff" stroke="#333" stroke-width="1.2"/>
<g stroke-width="1.6" fill="none">
<line x1="2107" y1="182" x2="2130" y2="182" stroke="#2020c0" stroke-dasharray="4 2 1 2"/>
<line x1="2107" y1="196" x2="2130" y2="196" stroke="#207020" stroke-dasharray="5 3"/>
<line x1="2107" y1="210" x2="2130" y2="210" stroke="#e03030" stroke-dasharray="2 2"/>
<line x1="2107" y1="224" x2="2130" y2="224" stroke="#1fbfbf" stroke-width="2"/>
<line x1="2107" y1="238" x2="2130" y2="238" stroke="#c040c0" stroke-dasharray="1.5 2"/>
</g>
<g font-size="9.5" fill="#222" font-style="italic">
<text x="2135" y="185">ν = 4.85 GHz, S<tspan font-size="6">min</tspan> = 50 μJy</text>
<text x="2135" y="199">ν = 6.6 GHz, S<tspan font-size="6">min</tspan> = 592 μJy</text>
<text x="2135" y="213">ν = 8.4 GHz, S<tspan font-size="6">min</tspan> = 201 μJy</text>
<text x="2135" y="227">ν = 8.50 GHz, S<tspan font-size="6">min</tspan> = 23 μJy</text>
<text x="2135" y="241">ν = 14.4 GHz, S<tspan font-size="6">min</tspan> = 31 μJy</text>
</g>

<!-- Figure 2 -->
<g fill="#333" font-size="10.5">
<rect x="2355" y="375" width="310" height="225" fill="none" stroke="#333" stroke-width="1.3"/>
<text x="2350" y="414" text-anchor="end">10⁵</text><text x="2350" y="469" text-anchor="end">10⁴</text><text x="2350" y="527" text-anchor="end">10³</text><text x="2350" y="582" text-anchor="end">10²</text>
<text x="2355" y="612" text-anchor="middle">0.0</text><text x="2417" y="612" text-anchor="middle">0.2</text><text x="2479" y="612" text-anchor="middle">0.4</text><text x="2541" y="612" text-anchor="middle">0.6</text><text x="2603" y="612" text-anchor="middle">0.8</text><text x="2665" y="612" text-anchor="middle">1.0</text>
<text x="2509" y="627" font-style="italic" font-size="12">f</text>
<text transform="translate(2330,490) rotate(-90)" text-anchor="middle" font-style="italic">N<tspan font-size="7">max</tspan></text>
</g>
<g fill="none" stroke-width="5" stroke-dasharray="3 1.2">
<path d="M2357,408 C2375,412 2390,430 2420,442 C2470,460 2560,475 2665,484" stroke="#1a6e1a"/>
<path d="M2358,395 C2362,430 2380,465 2410,482 C2460,503 2560,515 2665,523" stroke="#b01818"/>
<path d="M2360,470 C2365,495 2385,515 2420,527 C2470,542 2570,550 2665,556" stroke="#1818b0"/>
<path d="M2360,485 C2365,510 2385,527 2420,538 C2470,553 2570,560 2665,566" stroke="#801880"/>
<path d="M2360,490 C2366,520 2385,537 2420,548 C2470,562 2570,570 2665,576" stroke="#18a0a0"/>
</g>
<rect x="2501" y="381" width="160" height="85" fill="#fff" stroke="#333" stroke-width="1.2"/>
<g font-size="9.5" fill="#222" font-style="italic">
<circle cx="2512" cy="394" r="2.5" fill="#1818b0"/><text x="2530" y="397">ν = 4.85 GHz, S<tspan font-size="6">min</tspan> = 50 μJy</text>
<path d="M2512,405 l3,5 h-6z" fill="#1a6e1a"/><text x="2530" y="411">ν = 6.6 GHz, S<tspan font-size="6">min</tspan> = 592 μJy</text>
<path d="M2512,420 l3,4 l-3,4 l-3,-4z" fill="#b01818"/><text x="2530" y="427">ν = 8.4 GHz, S<tspan font-size="6">min</tspan> = 201 μJy</text>
<rect x="2509" y="438" width="6" height="6" fill="#18a0a0"/><text x="2530" y="444">ν = 8.50 GHz, S<tspan font-size="6">min</tspan> = 23 μJy</text>
<path d="M2509,454 h6 l-3,5z" fill="#801880"/><text x="2530" y="460">ν = 14.4 GHz, S<tspan font-size="6">min</tspan> = 31 μJy</text>
</g>

<!-- Figure 3 -->
<g fill="#333" font-size="10.5">
<rect x="2878" y="188" width="320" height="202" fill="none" stroke="#333" stroke-width="1.3"/>
<text x="2872" y="394" text-anchor="end">0</text><text x="2872" y="359" text-anchor="end">5</text><text x="2872" y="324" text-anchor="end">10</text><text x="2872" y="289" text-anchor="end">15</text><text x="2872" y="254" text-anchor="end">20</text><text x="2872" y="219" text-anchor="end">25</text>
<text x="2904" y="403" text-anchor="middle">50</text><text x="2952" y="403" text-anchor="middle">100</text><text x="3000" y="403" text-anchor="middle">150</text><text x="3049" y="403" text-anchor="middle">200</text><text x="3097" y="403" text-anchor="middle">250</text><text x="3145" y="403" text-anchor="middle">300</text><text x="3193" y="403" text-anchor="middle">350</text>
<text x="2904" y="183" text-anchor="middle">500</text><text x="2950" y="183" text-anchor="middle">1000</text><text x="2998" y="183" text-anchor="middle">1500</text><text x="3045" y="183" text-anchor="middle">2000</text><text x="3092" y="183" text-anchor="middle">2500</text><text x="3140" y="183" text-anchor="middle">3000</text><text x="3186" y="183" text-anchor="middle">3500</text>
<text x="3037" y="418" text-anchor="middle" font-size="11.5">⟨N⟩</text>
<text x="3037" y="167" text-anchor="middle" font-size="11.5">⟨N<tspan font-size="7">GC</tspan>⟩</text>
<text transform="translate(2862,289) rotate(-90)" text-anchor="middle" font-style="italic" font-size="11">n<tspan font-size="7">obs</tspan></text>
</g>
<g stroke="#2040e0">
<g stroke-width="1.1" stroke-dasharray="3 3">
<line x1="2898" y1="376" x2="2898" y2="341"/><line x1="2919" y1="383" x2="2919" y2="327"/><line x1="2941" y1="376" x2="2941" y2="313"/><line x1="2962" y1="376" x2="2962" y2="299"/><line x1="2983" y1="376" x2="2983" y2="285"/><line x1="3005" y1="383" x2="3005" y2="271"/><line x1="3026" y1="383" x2="3026" y2="264"/><line x1="3048" y1="376" x2="3048" y2="257"/><line x1="3069" y1="376" x2="3069" y2="243"/><line x1="3091" y1="369" x2="3091" y2="229"/><line x1="3112" y1="369" x2="3112" y2="222"/><line x1="3134" y1="362" x2="3134" y2="215"/><line x1="3155" y1="362" x2="3155" y2="201"/><line x1="3176" y1="348" x2="3176" y2="187"/><line x1="3198" y1="348" x2="3198" y2="188"/>
</g>
<g stroke-width="4.5">
<line x1="2879" y1="390" x2="2879" y2="376"/><line x1="2898" y1="383" x2="2898" y2="369"/><line x1="2919" y1="383" x2="2919" y2="355"/><line x1="2941" y1="376" x2="2941" y2="348"/><line x1="2962" y1="369" x2="2962" y2="341"/><line x1="2983" y1="362" x2="2983" y2="327"/><line x1="3005" y1="355" x2="3005" y2="320"/><line x1="3026" y1="355" x2="3026" y2="313"/><line x1="3048" y1="348" x2="3048" y2="306"/><line x1="3069" y1="341" x2="3069" y2="292"/><line x1="3091" y1="334" x2="3091" y2="285"/><line x1="3112" y1="327" x2="3112" y2="278"/><line x1="3134" y1="320" x2="3134" y2="271"/><line x1="3155" y1="313" x2="3155" y2="264"/><line x1="3176" y1="306" x2="3176" y2="257"/><line x1="3196" y1="299" x2="3196" y2="243"/>
</g>
</g>
<g fill="#fff" stroke="#2040e0" stroke-width="0.6">
<rect x="2896.5" y="374.5" width="3" height="3"/><rect x="2917.5" y="367.5" width="3" height="3"/><rect x="2939.5" y="360.5" width="3" height="3"/><rect x="2960.5" y="353.5" width="3" height="3"/><rect x="2981.5" y="346.5" width="3" height="3"/><rect x="3003.5" y="339.5" width="3" height="3"/><rect x="3024.5" y="332.5" width="3" height="3"/><rect x="3046.5" y="325.5" width="3" height="3"/><rect x="3067.5" y="318.5" width="3" height="3"/><rect x="3089.5" y="311.5" width="3" height="3"/><rect x="3110.5" y="304.5" width="3" height="3"/><rect x="3132.5" y="297.5" width="3" height="3"/><rect x="3153.5" y="290.5" width="3" height="3"/><rect x="3174.5" y="276.5" width="3" height="3"/>
</g>
</svg>
</body></html>
